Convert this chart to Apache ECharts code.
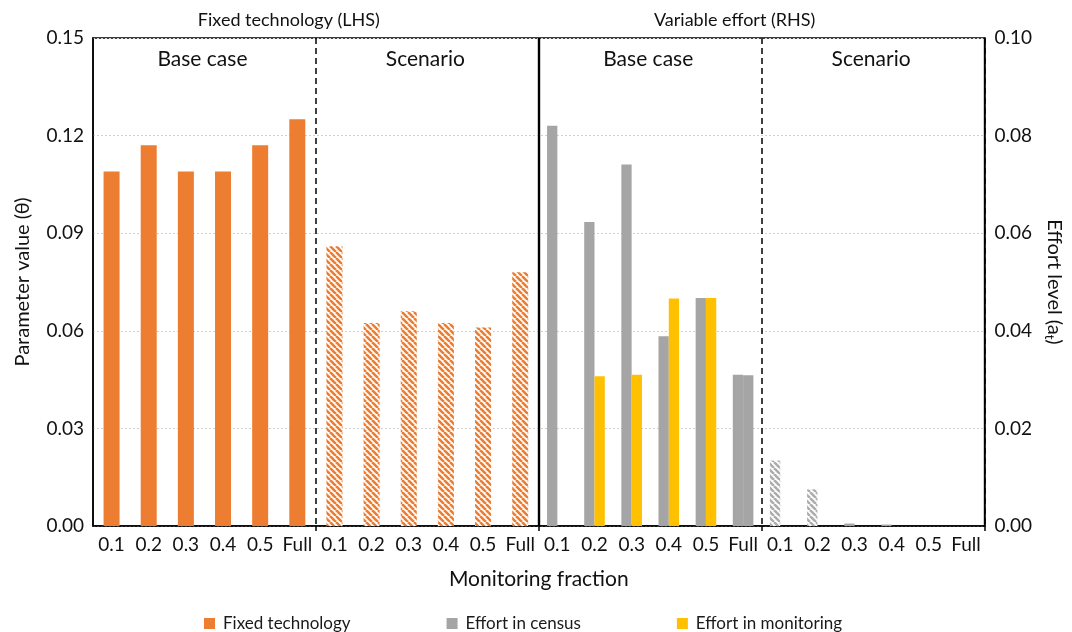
<!DOCTYPE html>
<html><head><meta charset="utf-8">
<script src="https://cdn.jsdelivr.net/npm/echarts@6/dist/echarts.min.js"></script>
<style>html,body{margin:0;padding:0;background:#fff}#c{width:1072px;height:632px}</style>
</head><body><div id="c"></div>
<script>
// ---- data ----
const fractions = ['0.1', '0.2', '0.3', '0.4', '0.5', 'Full'];
const panels = ['fixedBase', 'fixedScenario', 'effortBase', 'effortScenario'];
const panelLabels = ['Base case', 'Scenario', 'Base case', 'Scenario'];
const groupTitles = ['Fixed technology (LHS)', 'Variable effort (RHS)'];
const fixedBase = [0.109, 0.117, 0.109, 0.109, 0.117, 0.125];
const fixedScenario = [0.086, 0.0624, 0.066, 0.0624, 0.061, 0.078];
const censusBase = [0.082, 0.0623, 0.0741, 0.0389, 0.0467, 0.031];
const censusScenario = [0.0134, 0.0075, 0.0005, 0.0003, 0, 0];
const monitoringBase = [0, 0.0307, 0.031, 0.0466, 0.0467, 0.0309];
const monitoringScenario = [0, 0, 0, 0, 0, 0];
const leftAxis = { min: 0, max: 0.15, interval: 0.03 };
const rightAxis = { min: 0, max: 0.10, interval: 0.02 };

// ---- styling helpers ----
const ORANGE = '#ed7d31', GREY = '#a5a5a5', YELLOW = '#ffc000';
const FONT = 'Lato, "Open Sans", sans-serif';
function hatch(color) {
  const s = 6, c = document.createElement('canvas');
  c.width = s; c.height = s;
  const g = c.getContext('2d');
  g.fillStyle = '#fff'; g.fillRect(0, 0, s, s);
  g.strokeStyle = color; g.lineWidth = 2.6; g.beginPath();
  for (let k = -1; k <= 1; k++) { g.moveTo(k * s, 0); g.lineTo(k * s + s, s); }
  g.stroke();
  return { image: c, repeat: 'repeat' };
}
const cats = [];
panels.forEach(p => fractions.forEach(f => cats.push(p + '|' + f)));
const nCat = cats.length;
const blank = fractions.map(() => null);
const nz = v => (v ? v : null);

const fixedData = fixedBase.map(v => v)
  .concat(fixedScenario.map(v => ({ value: v, itemStyle: { color: hatch(ORANGE) } })))
  .concat(blank, blank);
const censusData = blank.concat(blank, censusBase.map(nz),
  censusScenario.map(v => v ? ({ value: v, itemStyle: { color: v < 0.002 ? GREY : hatch('#adadad') } }) : null));
const monitoringData = blank.concat(blank,
  monitoringBase.map((v, i) => fractions[i] === 'Full' ? { value: v, itemStyle: { color: GREY } } : nz(v)),
  monitoringScenario.map(nz));

const sepDashed = i => i === 6 || i === 18;
const chart = echarts.init(document.getElementById('c'), null, { renderer: 'canvas' });
const option = {
  backgroundColor: '#fff',
  animation: false,
  textStyle: { fontFamily: FONT },
  grid: { left: 93, right: 86, top: 38, bottom: 106, show: true, borderColor: '#000', borderWidth: 1.5, containLabel: false },
  legend: {
    data: ['Fixed technology', 'Effort in census', 'Effort in monitoring'],
    top: 610, left: 199, icon: 'rect', itemWidth: 11, itemHeight: 11, itemGap: 96,
    textStyle: { fontSize: 17, fontFamily: FONT, color: '#1a1a1a', padding: [0, 0, 0, 3] }
  },
  xAxis: [
    {
      type: 'category', data: cats, position: 'bottom',
      axisLine: { lineStyle: { color: '#000', width: 1.5 } },
      axisTick: { show: true, interval: i => i === 6 || i === 12 || i === 18, length: 5, lineStyle: { color: '#000', width: 1.5 } },
      axisLabel: { interval: 0, margin: 9, fontSize: 19, fontFamily: FONT, color: '#111', formatter: v => v.split('|')[1] },
      splitLine: { show: true, interval: sepDashed, lineStyle: { color: '#000', width: 1.5, type: [6, 4] } },
      name: 'Monitoring fraction', nameLocation: 'middle', nameGap: 43,
      nameTextStyle: { fontSize: 21, fontFamily: FONT, color: '#111' }
    },
    {
      type: 'category', data: cats, position: 'bottom', show: false
    },
    {
      type: 'value', min: 0, max: nCat, position: 'bottom', show: false
    }
  ],
  yAxis: [
    {
      type: 'value', min: leftAxis.min, max: leftAxis.max, interval: leftAxis.interval, position: 'left',
      axisLine: { show: true, lineStyle: { color: '#000', width: 1.5 } }, axisTick: { show: false },
      axisLabel: { fontSize: 19, fontFamily: FONT, color: '#111', margin: 9, formatter: v => v.toFixed(2) },
      splitLine: { show: true, lineStyle: { color: '#d0d0d0', width: 1, type: [2, 2] } },
      name: 'Parameter value (θ)', nameLocation: 'middle', nameGap: 60, nameRotate: 90,
      nameTextStyle: { fontSize: 20, fontFamily: FONT, color: '#111' }
    },
    {
      type: 'value', min: rightAxis.min, max: rightAxis.max, interval: rightAxis.interval, position: 'right',
      axisLine: { show: true, lineStyle: { color: '#000', width: 1.5 } }, axisTick: { show: false },
      axisLabel: { fontSize: 19, fontFamily: FONT, color: '#111', margin: 10, formatter: v => v.toFixed(2) },
      splitLine: { show: false },
      name: 'Effort level (a{sub|t})', nameLocation: 'middle', nameGap: 57, nameRotate: -90,
      nameTextStyle: { fontSize: 20, fontFamily: FONT, color: '#111',
        rich: { sub: { fontSize: 13, fontFamily: FONT, color: '#111', verticalAlign: 'bottom', padding: [9, 0, 0, 0] } } }
    }
  ],
  series: [
    { name: 'Fixed technology', type: 'bar', xAxisIndex: 0, yAxisIndex: 0, data: fixedData, barWidth: 16, itemStyle: { color: ORANGE } },
    { name: 'Effort in census', type: 'bar', xAxisIndex: 1, yAxisIndex: 1, data: censusData, barWidth: 10.3, barGap: '0%', itemStyle: { color: GREY } },
    { name: 'Effort in monitoring', type: 'bar', xAxisIndex: 1, yAxisIndex: 1, data: monitoringData, barWidth: 10.3, barGap: '0%', itemStyle: { color: YELLOW } },
    {
      name: 'separator', type: 'line', xAxisIndex: 2, yAxisIndex: 0, data: [], silent: true,
      markLine: { silent: true, symbol: 'none', label: { show: false }, animation: false,
        lineStyle: { color: '#000', width: 2.4, type: 'solid' }, data: [{ xAxis: nCat / 2 }] }
    }
  ]
};
chart.setOption(option);

// panel labels and group titles positioned from the category axis
const px = i => chart.convertToPixel({ xAxisIndex: 0 }, i);
const topY = chart.convertToPixel({ yAxisIndex: 0 }, leftAxis.max);
const n = fractions.length;
const graphics = [];
panelLabels.forEach((t, p) => {
  const cx = (px(p * n + n / 2 - 1) + px(p * n + n / 2)) / 2;
  graphics.push({ type: 'text', x: cx - 2, y: topY + 21, style: { text: t, fill: '#111', font: '21px ' + FONT, textAlign: 'center', textVerticalAlign: 'middle', verticalAlign: 'middle' } });
});
groupTitles.forEach((t, g) => {
  const cx = (px(g * 2 * n + n - 1) + px(g * 2 * n + n)) / 2 - 27;
  graphics.push({ type: 'text', x: cx, y: topY - 18, style: { text: t, fill: '#111', font: '18px ' + FONT, textAlign: 'center', textVerticalAlign: 'middle', verticalAlign: 'middle' } });
});
chart.setOption({ graphic: graphics });
</script></body></html>
